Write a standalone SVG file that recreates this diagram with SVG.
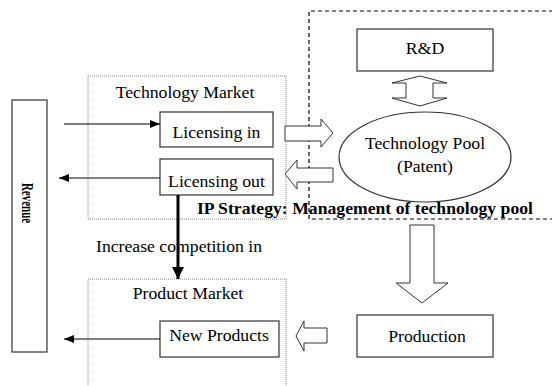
<svg xmlns="http://www.w3.org/2000/svg" width="552" height="386" viewBox="0 0 552 386">
<defs>
<style>
text{font-size:17.7px;fill:#000}
.c{text-anchor:middle}
.b{font-weight:bold}
.box{fill:#fff;stroke:#333;stroke-width:1.2}
.dot{fill:none;stroke:#888;stroke-width:1;stroke-dasharray:1 1}
.dash{fill:none;stroke:#000;stroke-width:1.2;stroke-dasharray:4 3}
.blk{fill:#fff;stroke:#333;stroke-width:1}
.ln{fill:none;stroke:#000;stroke-width:1}
</style>
<marker id="ah" viewBox="0 0 10 8" refX="10" refY="4" markerWidth="10" markerHeight="8" markerUnits="userSpaceOnUse" orient="auto"><path d="M0,0 L10,4 L0,8 Z" fill="#000"/></marker>
<marker id="ahb" viewBox="0 0 12 12" refX="12" refY="6" markerWidth="12" markerHeight="12" markerUnits="userSpaceOnUse" orient="auto"><path d="M0,0 L12,6 L0,12 Z" fill="#000"/></marker>
</defs>
<g font-family="'Liberation Serif', 'Times New Roman', serif">
<g id="tech-market">
<rect class="dot" x="88" y="76" width="198" height="143"/>
<text class="c" x="185" y="98">Technology Market</text>
</g>
<g id="product-market">
<rect class="dot" x="88" y="279" width="198" height="130"/>
<text class="c" x="188" y="299">Product Market</text>
</g>
<g id="ip-strategy">
<path class="dash" d="M560,11 H309 V219 H560"/>
</g>

<g id="revenue">
<rect class="box" x="12" y="100" width="35" height="252"/>
<text class="b" x="0" y="0" text-anchor="middle" font-size="18" transform="translate(22,203) rotate(90) scale(0.62,1)">Revenue</text>
</g>
<g id="licensing-in">
<rect class="box" x="160" y="112" width="113" height="35"/>
<text class="c" x="216.5" y="138">Licensing in</text>
</g>
<g id="licensing-out">
<rect class="box" x="160" y="159" width="113" height="36"/>
<text class="c" x="216.5" y="187">Licensing out</text>
</g>
<g id="new-products">
<rect class="box" x="160" y="321" width="119" height="36"/>
<text class="c" x="219" y="341">New Products</text>
</g>
<g id="rd">
<rect class="box" x="357" y="29" width="136" height="42"/>
<text class="c" x="425" y="54">R&amp;D</text>
</g>
<g id="technology-pool">
<ellipse class="box" cx="425" cy="157" rx="86" ry="45"/>
<text class="c" x="425" y="149">Technology Pool</text>
<text class="c" x="425" y="172">(Patent)</text>
</g>
<g id="production">
<rect class="box" x="357" y="315" width="136" height="42"/>
<text class="c" x="427" y="342">Production</text>
</g>

<g id="connectors">
<line class="ln" x1="64" y1="124" x2="160" y2="124" marker-end="url(#ah)"/>
<line class="ln" x1="160" y1="178" x2="59" y2="178" marker-end="url(#ah)"/>
<line class="ln" x1="160" y1="339" x2="64" y2="339" marker-end="url(#ah)"/>
<line x1="178" y1="195" x2="178" y2="279" stroke="#000" stroke-width="3" marker-end="url(#ahb)"/>
<text x="96" y="252">Increase competition in</text>
<path class="blk" d="M285,126 H321 V119 L333,133 L321,147 V141 H285 Z"/>
<path class="blk" d="M333,168 H297 V160 L285,174 L297,189 V182 H333 Z"/>
<path class="blk" d="M420,76 L447,83 H433 V98 H447 L420,106 L392,98 H406 V83 H392 Z"/>
<path class="blk" d="M410,225 H434 V283 H448 L422,303 L396,283 H410 Z"/>
<path class="blk" d="M327,328 H304 V321 L296,336 L304,351 V343 H327 Z"/>
</g>

<text class="b" x="197" y="214" textLength="336" lengthAdjust="spacingAndGlyphs">IP Strategy: Management of technology pool</text>
</g>
</svg>
